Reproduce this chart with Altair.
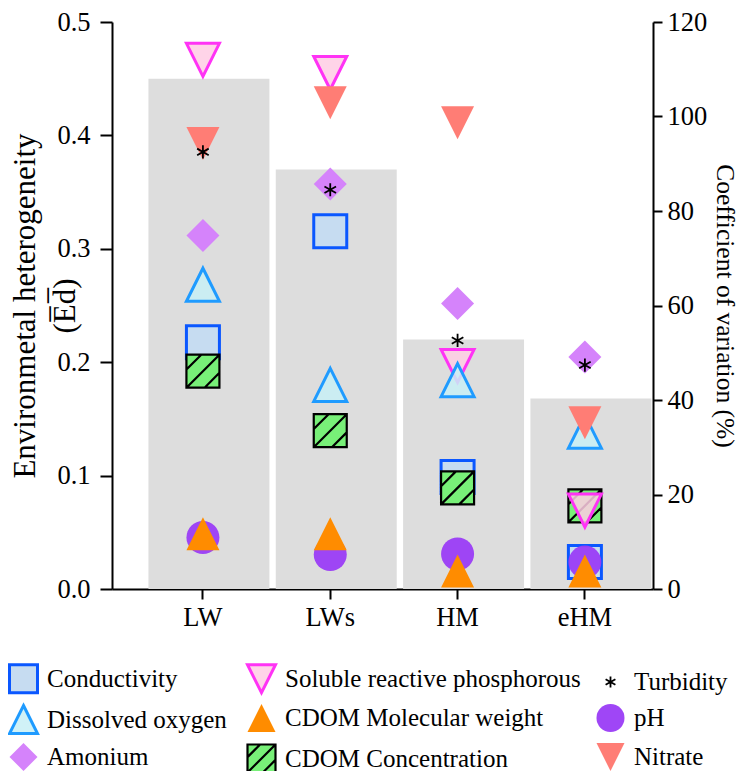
import altair as alt
import pandas as pd

FONT = "Liberation Serif, Times New Roman, serif"

# ---- data ----
sites = ["LW", "LWs", "HM", "eHM"]
heterogeneity = [0.45, 0.37, 0.22, 0.168]  # Environmental heterogeneity (left axis)

# Coefficient of variation (%) per variable, site order LW, LWs, HM, eHM (right axis)
conductivity = [52.2, 75.7, 23.7, 5.7]
cdom_conc = [46.1, 33.5, 21.4, 17.6]
srp = [112.0, 109.2, 47.2, 16.6]
dissolved_oxygen = [64.4, 43.2, 44.2, 33.3]
amonium = [74.8, 85.7, 60.4, 49.1]
ph = [10.9, 7.3, 7.4, 5.7]
cdom_mw = [11.7, 11.7, 3.8, 3.8]
nitrate = [94.3, 102.9, 98.7, 35.2]
turbidity = [92.5, 84.5, 52.6, 47.4]

# drawing order (bottom to top)
variables = ["Conductivity", "CDOM Concentration", "Soluble reactive phosphorous",
             "Dissolved oxygen", "Amonium", "pH", "CDOM Molecular weight",
             "Nitrate", "Turbidity"]
cv_series = [conductivity, cdom_conc, srp, dissolved_oxygen, amonium, ph,
             cdom_mw, nitrate, turbidity]

# legend order (row by row)
legend_order = ["Conductivity", "Soluble reactive phosphorous", "Turbidity",
                "Dissolved oxygen", "CDOM Molecular weight", "pH",
                "Amonium", "CDOM Concentration", "Nitrate"]

SQUARE = "M-1,-1L1,-1L1,1L-1,1Z"
TRI_UP = "M0,-1L1,1L-1,1Z"
TRI_DOWN = "M-1,-1L1,-1L0,1Z"
HATCH_SQUARE = "M-1,-1L1,-1L1,1L-1,1Z M-1,-0.1L-0.1,-1 M-1,1L1,-1 M0.1,1L1,0.1"
ASTERISK = "M0,-0.4L0,0.4 M-0.35,-0.2L0.35,0.2 M-0.35,0.2L0.35,-0.2"

shapes = [SQUARE, TRI_DOWN, ASTERISK, TRI_UP, TRI_UP, "circle", "diamond",
          HATCH_SQUARE, TRI_DOWN]
fills = ["#c6dcf1", "rgba(255,205,228,0.85)", "transparent", "rgba(200,240,246,0.85)",
         "#ff8c00", "rgba(154,60,245,0.95)", "#d583fb", "#78f078", "#ff7d75"]
strokes = ["#0a57ff", "#ff33f5", "black", "#1f9bff", "#ff8c00", "#9a3cf5",
           "#d583fb", "black", "#ff7d75"]
stroke_widths = [3, 3, 1.8, 3, 0, 0, 0, 2.2, 0]

bars_df = pd.DataFrame({"site": sites, "ed": heterogeneity})
rows = []
for name, vals in zip(variables, cv_series):
    for s, v in zip(sites, vals):
        rows.append({"site": s, "variable": name, "cv": v})
pts_df = pd.DataFrame(rows)

xscale = alt.Scale(type="band", domain=sites, paddingInner=0, paddingOuter=0.1245, align=0.86)
xaxis = alt.Axis(title=None, tickSize=10, labelPadding=5, labelAngle=0)

bars = alt.Chart(bars_df).mark_bar(
    color="#dddddd", xOffset=6, width=alt.RelativeBandSize(0.95)
).encode(
    x=alt.X("site:N", scale=xscale, axis=xaxis, sort=sites),
    y=alt.Y("ed:Q", scale=alt.Scale(domain=[0, 0.5], nice=False),
            axis=alt.Axis(orient="left", values=[0, 0.1, 0.2, 0.3, 0.4, 0.5], format=".1f",
                          tickSize=12, labelPadding=10,
                          title=["Environmetal heterogeneity", "(E\u0305d\u0305)"],
                          titleFontSize=31, titleLineHeight=40, titleX=-71,
                          titleBaseline="bottom")),
)

leg = alt.Legend(title=None, orient="none", legendX=-104, legendY=641, columns=3,
                 direction="horizontal", symbolSize=784, labelOffset=8,
                 columnPadding=14, rowPadding=0, labelLimit=400, labelFontSize=25,
                 labelFont=FONT, labelColor="black", padding=0)

points = alt.Chart(pts_df).mark_point(filled=True, opacity=1, size=1089).encode(
    x=alt.X("site:N", scale=xscale, axis=xaxis, sort=sites),
    y=alt.Y("cv:Q", scale=alt.Scale(domain=[0, 120], nice=False),
            axis=alt.Axis(orient="right", values=[0, 20, 40, 60, 80, 100, 120],
                          tickSize=9, labelPadding=5,
                          title="Coefficient of variation (%)", titleFontSize=25.5,
                          titlePadding=5)),
    fill=alt.Fill("variable:N", scale=alt.Scale(domain=legend_order, range=fills), legend=leg),
    stroke=alt.Stroke("variable:N", scale=alt.Scale(domain=legend_order, range=strokes), legend=leg),
    shape=alt.Shape("variable:N", scale=alt.Scale(domain=legend_order, range=shapes), legend=leg),
    strokeWidth=alt.StrokeWidth("variable:N",
                                scale=alt.Scale(type="ordinal", domain=legend_order, range=stroke_widths),
                                legend=leg),
)

chart = alt.layer(bars, points).resolve_scale(y="independent").properties(
    width=541, height=567,
    autosize=alt.AutoSizeParams(type="none"),
    padding={"left": 104, "top": 14, "right": 86, "bottom": 182},
).configure_axis(
    labelFont=FONT, labelFontSize=26.5, labelColor="black",
    titleFont=FONT, titleFontWeight="normal", titleColor="black",
    domainColor="black", domainWidth=2, tickColor="black", tickWidth=2, grid=False,
).configure_view(stroke=None)

chart.save("out.html", embed_options={"renderer": "svg", "actions": False})
